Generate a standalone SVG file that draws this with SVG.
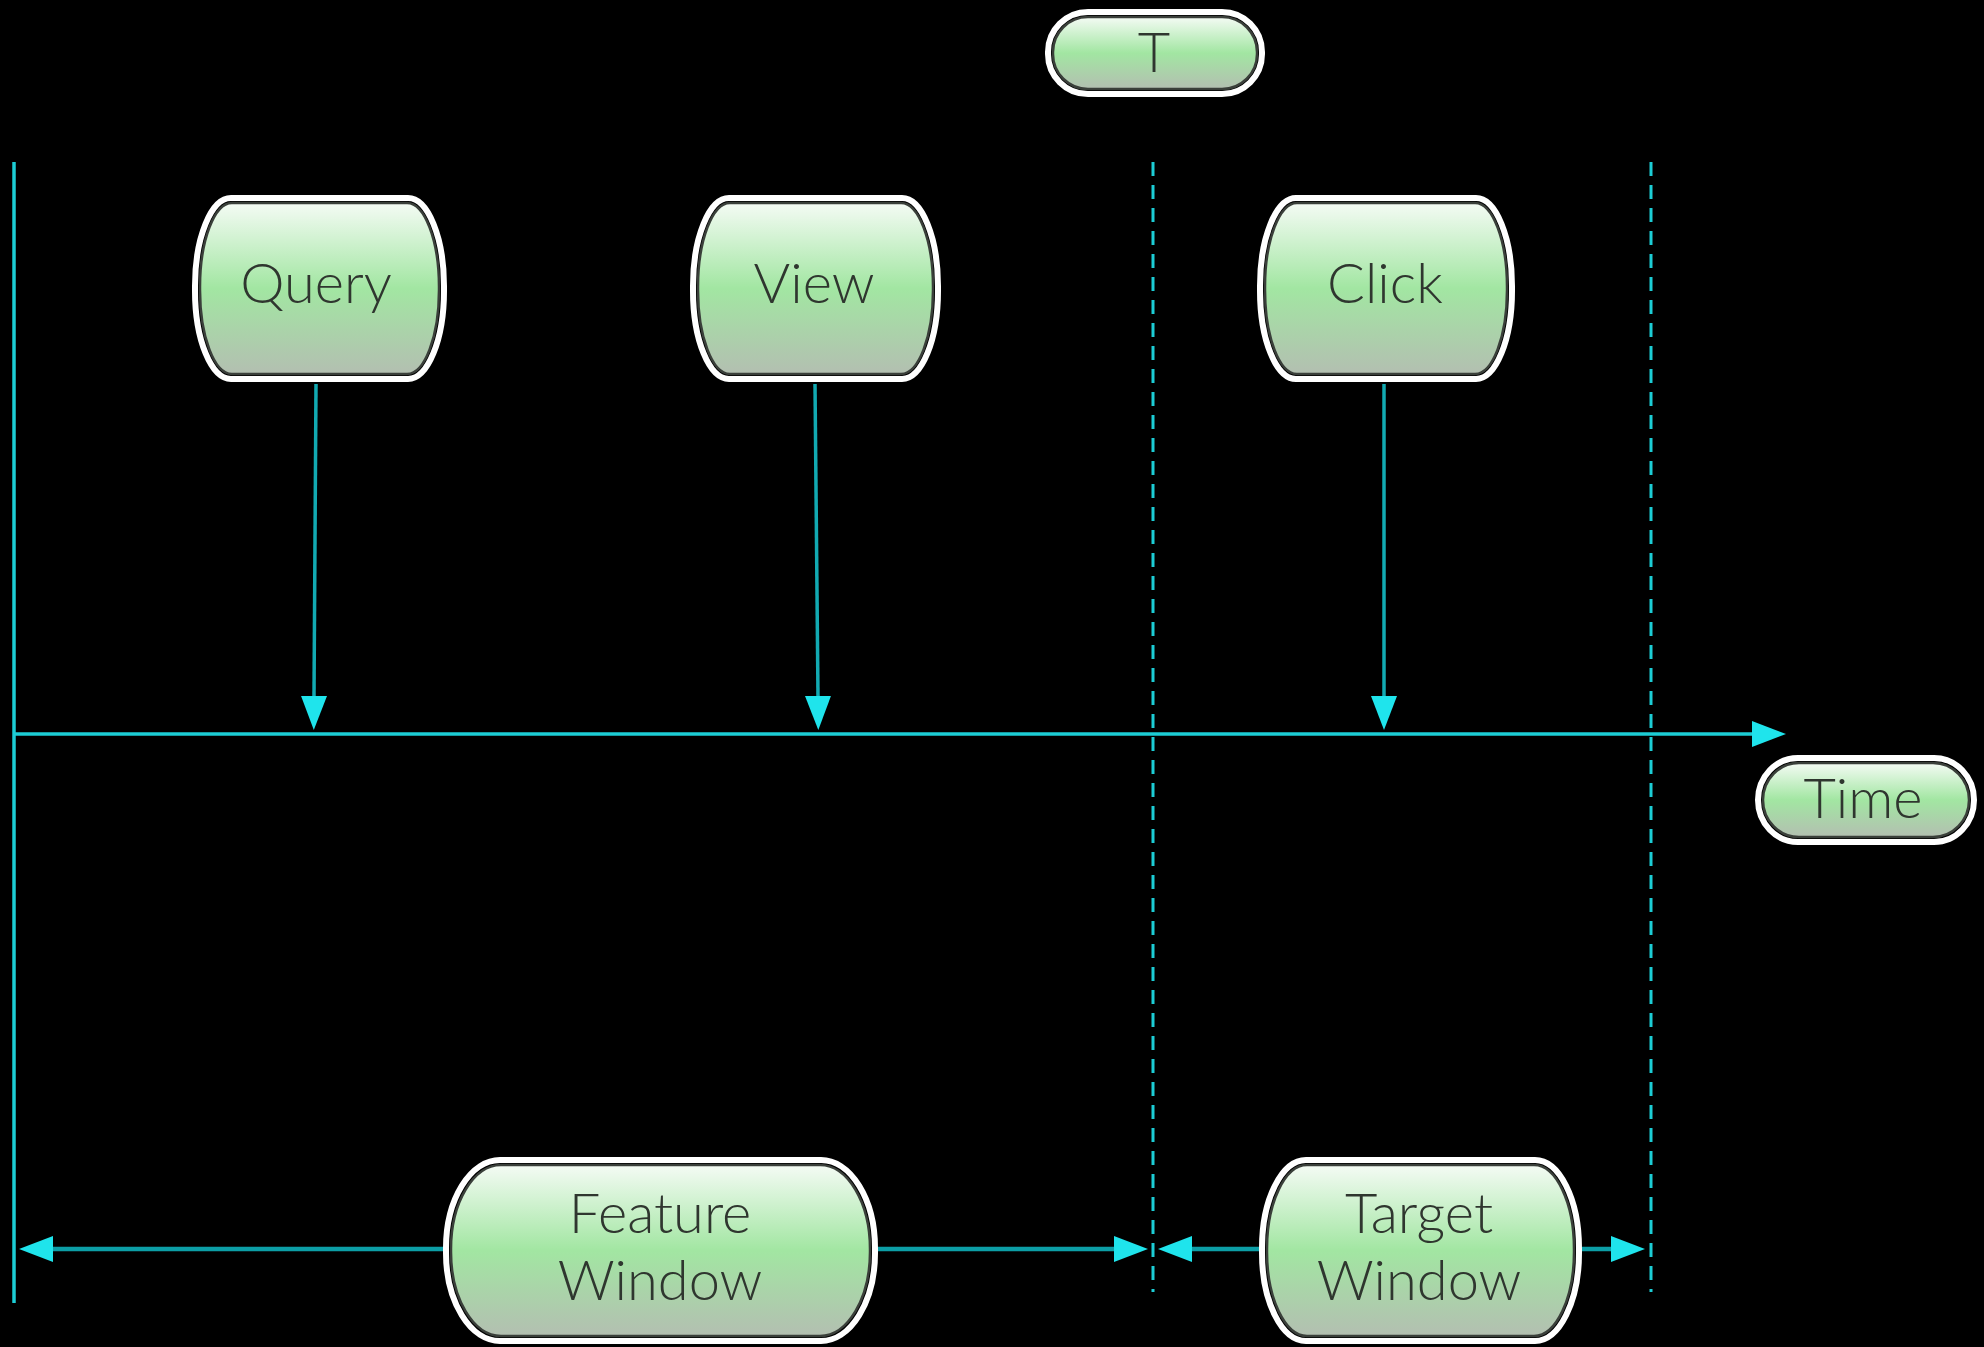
<svg xmlns="http://www.w3.org/2000/svg" width="1984" height="1347" viewBox="0 0 1984 1347">
  <defs>
    <linearGradient id="nodeFill" x1="0" y1="0" x2="0" y2="1">
      <stop offset="0" stop-color="#f4fbf4"/>
      <stop offset="0.5" stop-color="#a2e6a2"/>
      <stop offset="1" stop-color="#b3bfb1"/>
    </linearGradient>
    <marker id="head" markerUnits="userSpaceOnUse" markerWidth="36" markerHeight="28" refX="0" refY="13" orient="auto">
      <path d="M0,0 L34,13 L0,26 z" fill="#1fe4ec"/>
    </marker>
    <style>
      .outer { fill: none; stroke: #ffffff; stroke-width: 6; }
      .inner { fill: url(#nodeFill); stroke: #3a3f3a; stroke-width: 2.5; }
      .label { font-family: Lato, "Open Sans", "Liberation Sans", sans-serif; font-weight: 300; font-size: 56px; fill: #2f362f; text-anchor: middle; }
      .axis { stroke: #1ccdd5; stroke-width: 3.5; fill: none; }
      .guide { stroke: #1ccdd5; stroke-width: 3; stroke-dasharray: 14 9; fill: none; }
      .drop { stroke: #12aab2; stroke-width: 3.5; fill: none; }
      .span { stroke: #0c9ea6; stroke-width: 4.5; fill: none; }
    </style>
  </defs>

  <rect width="1984" height="1347" fill="#000000"/>

  <g id="connectors">
    <!-- origin axis and time axis -->
    <line class="axis" x1="14" y1="162" x2="14" y2="1303"/>
    <line class="axis" x1="14" y1="734" x2="1752" y2="734" marker-end="url(#head)"/>
    <!-- window boundaries -->
    <line class="guide" x1="1153" y1="162" x2="1153" y2="1292"/>
    <line class="guide" x1="1651" y1="162" x2="1651" y2="1292"/>
    <!-- events dropping onto the time axis -->
    <line class="drop" x1="316" y1="384" x2="314" y2="696" marker-end="url(#head)"/>
    <line class="drop" x1="815" y1="384" x2="818" y2="696" marker-end="url(#head)"/>
    <line class="drop" x1="1384" y1="384" x2="1384" y2="696" marker-end="url(#head)"/>
    <!-- window extents -->
    <line class="span" x1="443" y1="1249" x2="53" y2="1249" marker-end="url(#head)"/>
    <line class="span" x1="878" y1="1249" x2="1114" y2="1249" marker-end="url(#head)"/>
    <line class="span" x1="1259" y1="1249" x2="1192" y2="1249" marker-end="url(#head)"/>
    <line class="span" x1="1582" y1="1249" x2="1611" y2="1249" marker-end="url(#head)"/>
  </g>

  <g id="node-T">
    <rect class="outer" x="1048" y="12" width="214" height="82" rx="40" ry="40"/>
    <rect class="inner" x="1053" y="17" width="204" height="72" rx="35" ry="35"/>
    <text class="label" x="1154" y="72">T</text>
  </g>

  <g id="node-query">
    <rect class="outer" x="195" y="198" width="249" height="181" rx="36" ry="88"/>
    <rect class="inner" x="200" y="203" width="239" height="171" rx="32" ry="84"/>
    <text class="label" x="316" y="303">Query</text>
  </g>

  <g id="node-view">
    <rect class="outer" x="693" y="198" width="245" height="181" rx="36" ry="88"/>
    <rect class="inner" x="698" y="203" width="235" height="171" rx="32" ry="84"/>
    <text class="label" x="814" y="303">View</text>
  </g>

  <g id="node-click">
    <rect class="outer" x="1260" y="198" width="252" height="181" rx="36" ry="88"/>
    <rect class="inner" x="1265" y="203" width="242" height="171" rx="32" ry="84"/>
    <text class="label" x="1385" y="303">Click</text>
  </g>

  <g id="node-time">
    <rect class="outer" x="1758" y="758" width="216" height="84" rx="40" ry="42"/>
    <rect class="inner" x="1763" y="763" width="206" height="74" rx="36" ry="37"/>
    <text class="label" x="1863" y="818">Time</text>
  </g>

  <g id="node-feature-window">
    <rect class="outer" x="446" y="1160" width="429" height="181" rx="54" ry="88"/>
    <rect class="inner" x="451" y="1165" width="419" height="171" rx="50" ry="84"/>
    <text class="label" x="660" y="1233">Feature</text>
    <text class="label" x="660" y="1300">Window</text>
  </g>

  <g id="node-target-window">
    <rect class="outer" x="1262" y="1160" width="317" height="181" rx="44" ry="88"/>
    <rect class="inner" x="1267" y="1165" width="307" height="171" rx="40" ry="84"/>
    <text class="label" x="1419" y="1233">Target</text>
    <text class="label" x="1419" y="1300">Window</text>
  </g>
</svg>
